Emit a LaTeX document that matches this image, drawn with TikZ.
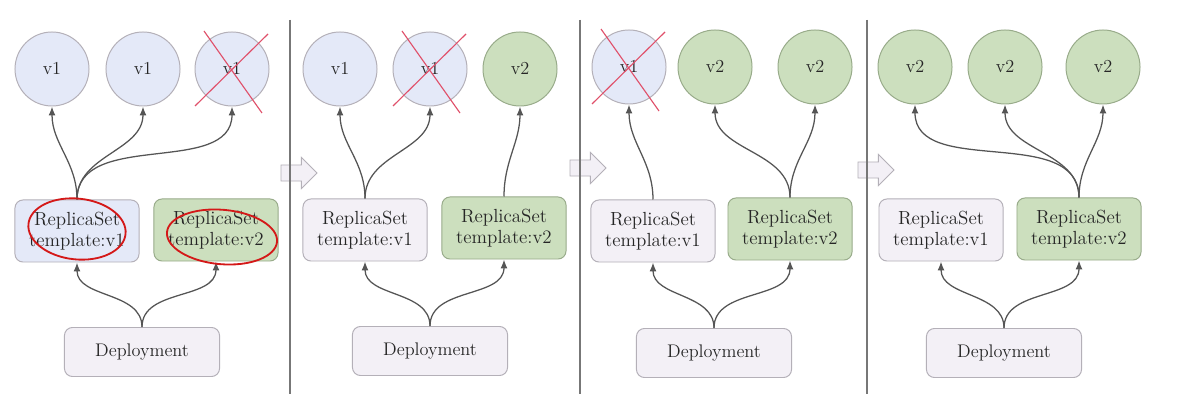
\documentclass[tikz,border=0pt]{standalone}
\usepackage{tikz}
\usetikzlibrary{arrows.meta,shapes.arrows,calc}
\definecolor{podblue}{HTML}{E4E9F8}
\definecolor{podgreen}{HTML}{CCDFBE}
\definecolor{greenline}{HTML}{98AB8A}
\definecolor{boxlav}{HTML}{F3F0F6}
\definecolor{boxline}{HTML}{B4B0B8}
\definecolor{linkgrey}{HTML}{555555}
\definecolor{crossred}{HTML}{E0506A}
\definecolor{penred}{HTML}{D41818}
\tikzset{
	pod/.style={
		circle, draw=boxline, fill=podblue, line width=0.7pt,
		minimum size=1.85cm, inner sep=0pt, text=black!85,
		font=\fontsize{13}{15}\selectfont
	},
	newpod/.style={pod, fill=podgreen, draw=greenline},
	rsbox/.style={
		rectangle, rounded corners=0.2cm, draw=boxline, fill=boxlav,
		line width=0.7pt, minimum width=3.1cm, minimum height=1.55cm,
		align=center, inner sep=2pt, text=black!85,
		font=\fontsize{13.5}{14.5}\selectfont
	},
	newrs/.style={rsbox, fill=podgreen, draw=greenline},
	depbox/.style={rsbox, minimum width=3.875cm, minimum height=1.225cm,
		font=\fontsize{13}{14.5}\selectfont},
	link/.style={draw=linkgrey, line width=0.9pt, -{Latex[length=0.22cm,width=0.17cm]}},
	cross/.style={draw=crossred, line width=0.8pt},
	scribble/.style={draw=penred, line width=1.3pt},
	step arrow/.style={
		single arrow, draw=boxline, fill=boxlav, line width=0.6pt,
		minimum height=0.9cm, minimum width=0.75cm,
		single arrow head extend=0.19cm, inner xsep=0pt, inner ysep=0.19cm
	}
}
\newcommand{\podcross}[1]{%
	\draw[cross] ($(#1)+(-28,-38)$) -- ($(#1)+(30,44)$)
	($(#1)+(36,-35)$) -- ($(#1)+(-37,37)$);}

\begin{document}
\begin{tikzpicture}[x=0.025cm, y=-0.025cm]
	\useasboundingbox[fill=white] (0,0) rectangle (1190,419);
	
	% step arrows between the panels
	\node[step arrow] (s1) at (295,173) {};
	\node[step arrow] (s2) at (584,168) {};
	\node[step arrow] (s3) at (872,170) {};
	
	% separators
	\draw[linkgrey!80, line width=1.1pt] (290,20) -- (290,394) (580,20) -- (580,394) (867,20) -- (867,394);
	
	% panel 1
	\node[pod] (p1v1) at (52,69) {v1};
	\node[pod] (p1v2) at (143,69) {v1};
	\node[pod] (p1v3) at (232,69) {v1};
	\node[rsbox, fill=podblue] (p1rs1) at (77,231) {ReplicaSet\\template:v1};
	\node[newrs] (p1rs2) at (216,230) {ReplicaSet\\template:v2};
	\node[depbox] (p1dep) at (142,352) {Deployment};
	\podcross{p1v3}
	\draw[link] (p1dep.north) to[out=90,in=-90] (p1rs1.south);
	\draw[link] (p1dep.north) to[out=90,in=-90] (p1rs2.south);
	\draw[link] (p1rs1.north) to[out=90,in=-90] (p1v1.south);
	\draw[link] (p1rs1.north) to[out=90,in=-90] (p1v2.south);
	\draw[link] (p1rs1.north) to[out=90,in=-90] (p1v3.south);
	\draw[scribble] (77,229) ellipse [x radius=1.22cm, y radius=0.76cm, rotate=-6];
	\draw[scribble] (222,237) ellipse [x radius=1.38cm, y radius=0.68cm, rotate=-5];
	
	% panel 2
	\node[pod] (p2v1) at (340,69) {v1};
	\node[pod] (p2v2) at (430,69) {v1};
	\node[newpod] (p2v3) at (520,69) {v2};
	\node[rsbox] (p2rs1) at (365,230) {ReplicaSet\\template:v1};
	\node[newrs] (p2rs2) at (504,228) {ReplicaSet\\template:v2};
	\node[depbox] (p2dep) at (430,351) {Deployment};
	\podcross{p2v2}
	\draw[link] (p2dep.north) to[out=90,in=-90] (p2rs1.south);
	\draw[link] (p2dep.north) to[out=90,in=-90] (p2rs2.south);
	\draw[link] (p2rs1.north) to[out=90,in=-90] (p2v1.south);
	\draw[link] (p2rs1.north) to[out=90,in=-90] (p2v2.south);
	\draw[link] (p2rs2.north) to[out=90,in=-90] (p2v3.south);
	
	% panel 3
	\node[pod] (p3v1) at (629,67) {v1};
	\node[newpod] (p3v2) at (715,67) {v2};
	\node[newpod] (p3v3) at (815,67) {v2};
	\node[rsbox] (p3rs1) at (653,231) {ReplicaSet\\template:v1};
	\node[newrs] (p3rs2) at (790,229) {ReplicaSet\\template:v2};
	\node[depbox] (p3dep) at (714,353) {Deployment};
	\podcross{p3v1}
	\draw[link] (p3dep.north) to[out=90,in=-90] (p3rs1.south);
	\draw[link] (p3dep.north) to[out=90,in=-90] (p3rs2.south);
	\draw[link] (p3rs1.north) to[out=90,in=-90] (p3v1.south);
	\draw[link] (p3rs2.north) to[out=90,in=-90] (p3v2.south);
	\draw[link] (p3rs2.north) to[out=90,in=-90] (p3v3.south);
	
	% panel 4
	\node[newpod] (p4v1) at (915,67) {v2};
	\node[newpod] (p4v2) at (1005,67) {v2};
	\node[newpod] (p4v3) at (1103,67) {v2};
	\node[rsbox] (p4rs1) at (941,230) {ReplicaSet\\template:v1};
	\node[newrs] (p4rs2) at (1079,229) {ReplicaSet\\template:v2};
	\node[depbox] (p4dep) at (1004,353) {Deployment};
	\draw[link] (p4dep.north) to[out=90,in=-90] (p4rs1.south);
	\draw[link] (p4dep.north) to[out=90,in=-90] (p4rs2.south);
	\draw[link] (p4rs2.north) to[out=90,in=-90] (p4v1.south);
	\draw[link] (p4rs2.north) to[out=90,in=-90] (p4v2.south);
	\draw[link] (p4rs2.north) to[out=90,in=-90] (p4v3.south);
\end{tikzpicture}
\end{document}
